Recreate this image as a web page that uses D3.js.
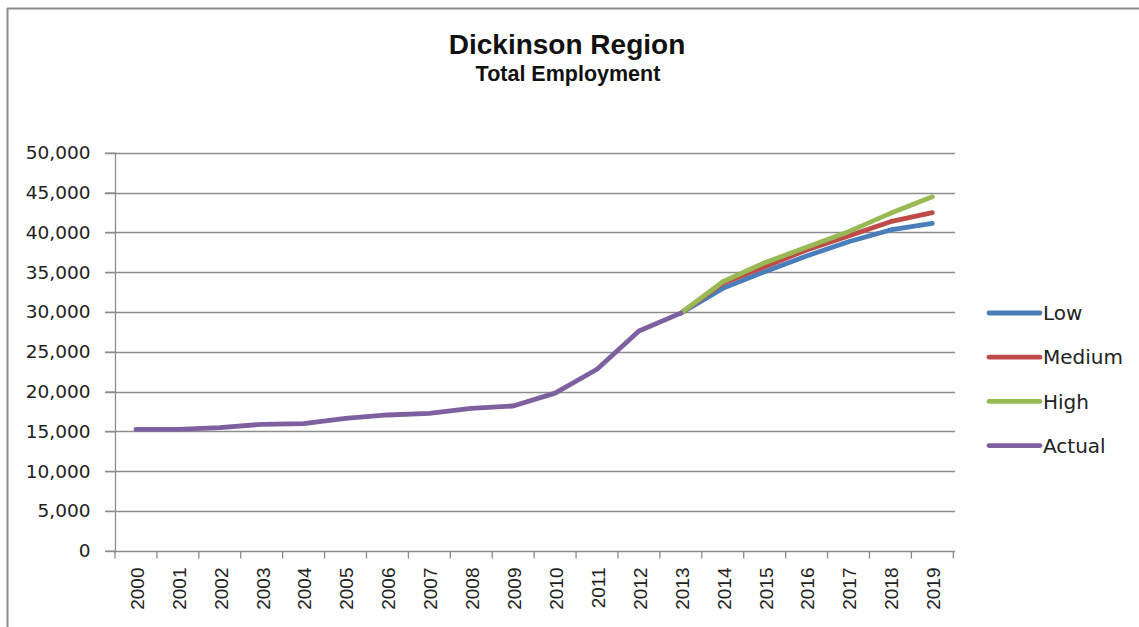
<!DOCTYPE html>
<html><head><meta charset="utf-8">
<script src="https://cdn.jsdelivr.net/npm/d3@7"></script>
<style>body{margin:0;background:#fff;}svg{display:block;}</style>
</head><body>
<script>
const years = ["2000","2001","2002","2003","2004","2005","2006","2007","2008","2009","2010","2011","2012","2013","2014","2015","2016","2017","2018","2019"];
const actualYears = years.slice(0,14);
const actualValues = [15250,15250,15450,15880,15960,16630,17050,17260,17890,18180,19800,22800,27600,29850];
const projYears = ["2013","2014","2015","2016","2017","2018","2019"];
const lowValues = [29850,32960,35050,37020,38820,40290,41130];
const mediumValues = [29850,33590,35680,37780,39540,41330,42460];
const highValues = [29850,33790,36180,38110,40080,42380,44470];
const yTicks = [0,5000,10000,15000,20000,25000,30000,35000,40000,45000,50000];
const seriesNames = ["Low","Medium","High","Actual"];
const seriesColors = ["#4a7ebb","#be4b48","#98b954","#7d60a0"];

const W=1139,H=627;
const svg=d3.select("body").append("svg").attr("width",W).attr("height",H);
svg.append("rect").attr("width",W).attr("height",H).attr("fill","#fff");
// frame (top and left)
svg.append("line").attr("x1",7).attr("x2",W).attr("y1",8.5).attr("y2",8.5).attr("stroke","#8a8a8a").attr("stroke-width",2);
svg.append("line").attr("x1",7.5).attr("x2",7.5).attr("y1",8).attr("y2",H).attr("stroke","#8a8a8a").attr("stroke-width",2);

svg.append("text").attr("x",567).attr("y",54).attr("text-anchor","middle")
  .style("font-family","'Liberation Sans',Arial,sans-serif").style("font-weight","bold").style("font-size","28px").attr("fill","#111").text("Dickinson Region");
svg.append("text").attr("x",568).attr("y",81).attr("text-anchor","middle")
  .style("font-family","'Liberation Sans',Arial,sans-serif").style("font-weight","bold").style("font-size","21.5px").attr("fill","#111").text("Total Employment");

const x=d3.scaleBand().domain(years).range([115,953.3]);
const y=d3.scaleLinear().domain([0,50000]).range([550.7,152.7]);
const cx=d=>x(d)+x.bandwidth()/2;

// gridlines
svg.append("g").selectAll("line").data(yTicks.filter(d=>d>0)).join("line")
  .attr("x1",105).attr("x2",955).attr("y1",d=>Math.round(y(d))+0.5).attr("y2",d=>Math.round(y(d))+0.5)
  .attr("stroke","#8c8c8c").attr("stroke-width",1.3);

// y axis
const yAxis=svg.append("g").attr("transform","translate(115.5,0)")
  .call(d3.axisLeft(y).tickValues(yTicks).tickFormat(d3.format(",")).tickSize(10).tickPadding(15));
yAxis.select(".domain").attr("d",`M0,${y(50000)}V${y(0)}`).attr("stroke","#8c8c8c").attr("stroke-width",1.3);
yAxis.selectAll(".tick line").attr("stroke","#8c8c8c").attr("stroke-width",1.3);
yAxis.selectAll("text").style("font-family","'DejaVu Sans',Verdana,sans-serif").style("font-size","18.5px").attr("fill","#222");

// x axis
const xAxis=svg.append("g").attr("transform",`translate(0,${Math.round(y(0))+0.5})`)
  .call(d3.axisBottom(x).tickSize(0).tickPadding(0));
xAxis.select(".domain").attr("d",`M105,0H955`).attr("stroke","#8c8c8c").attr("stroke-width",1.3);
xAxis.append("g").selectAll("line").data(years.concat(["end"])).join("line")
  .attr("x1",(d,i)=>115+i*x.step()).attr("x2",(d,i)=>115+i*x.step()).attr("y1",0).attr("y2",7)
  .attr("stroke","#8c8c8c").attr("stroke-width",1.3);
xAxis.selectAll(".tick text")
  .attr("transform","rotate(-90)").attr("text-anchor","end").attr("dy","0.36em").attr("x",-16).attr("y",1)
  .style("font-family","'Liberation Sans',Arial,sans-serif").style("font-size","19px").attr("fill","#222");

const line=d3.line().x(d=>cx(d[0])).y(d=>y(d[1]));
const series=[
  {name:"Low",data:d3.zip(projYears,lowValues),color:seriesColors[0]},
  {name:"Medium",data:d3.zip(projYears,mediumValues),color:seriesColors[1]},
  {name:"High",data:d3.zip(projYears,highValues),color:seriesColors[2]},
  {name:"Actual",data:d3.zip(actualYears,actualValues),color:seriesColors[3]}
];
svg.append("g").selectAll("path").data(series).join("path")
  .attr("d",d=>line(d.data)).attr("fill","none").attr("stroke",d=>d.color)
  .attr("stroke-width",4.8).attr("stroke-linejoin","round").attr("stroke-linecap","round");

// legend
const leg=svg.append("g").selectAll("g").data(seriesNames).join("g")
  .attr("transform",(d,i)=>`translate(989,${313+i*44.2})`);
leg.append("line").attr("x1",0).attr("x2",51).attr("stroke",(d,i)=>seriesColors[i]).attr("stroke-width",4.8).attr("stroke-linecap","round");
leg.append("text").attr("x",54).attr("dy","0.36em").text(d=>d)
  .style("font-family","'DejaVu Sans',Verdana,sans-serif").style("font-size","20px").attr("fill","#222");
</script>
</body></html>
